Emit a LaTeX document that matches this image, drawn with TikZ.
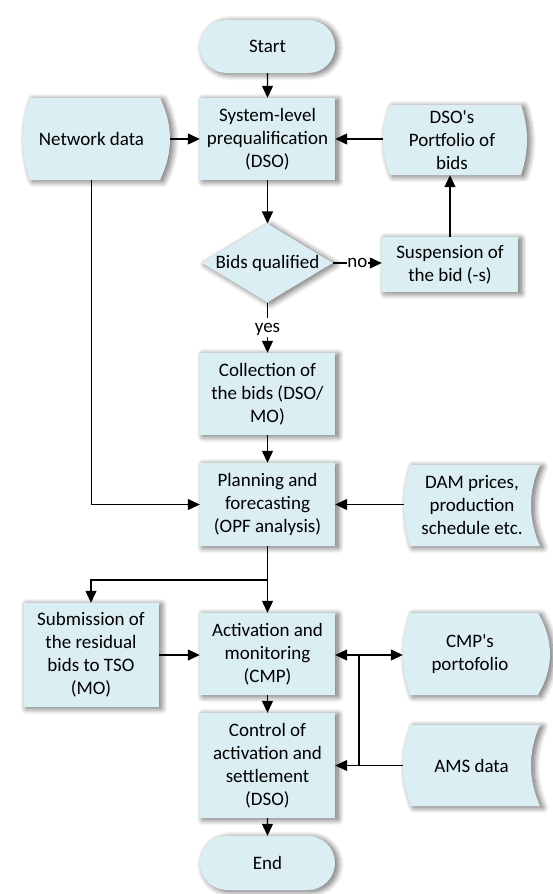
\documentclass[tikz,border=0pt]{standalone}
\usepackage{fontspec}
\newfontfamily\calfont{Carlito}
\usetikzlibrary{shapes.geometric,shapes.misc,arrows.meta,backgrounds,shadows.blur,calc}
\definecolor{boxfill}{HTML}{DAEEF3}
\tikzset{
  base/.style={font=\calfont\fontsize{19}{23}\selectfont, align=center, inner sep=0pt, text=black},
  shad/.style={blur shadow={shadow xshift=3pt, shadow yshift=-1.5pt, shadow blur radius=6pt, shadow blur steps=12, shadow opacity=60}},
  procbox/.style={base, rectangle, fill=boxfill, shad, minimum width=135pt},
  termbox/.style={base, rounded rectangle, fill=boxfill, shad, minimum width=135pt, minimum height=53pt},
  decbox/.style={base, diamond, aspect=1.66, fill=boxfill, shad},
  datatext/.style={base, rectangle},
  datafill/.style={fill=boxfill, shad},
  arr/.style={line width=1.2pt, -{Triangle[length=12pt,width=11pt]}},
  conn/.style={line width=1.2pt},
  lbl/.style={base, fill=white, inner xsep=0.5pt, inner ysep=1pt, text height=13pt, text depth=4pt},
}
\newcommand\storedata[6]{%
  \pgfmathsetmacro\sdh{(#4-#3)/3}%
  \path[datafill] (#1,#3) -- (#2,#3) .. controls ({#2+4*(#6)/3},{#3+\sdh}) and ({#2+4*(#6)/3},{#4-\sdh}) .. (#2,#4) -- (#1,#4) .. controls ({#1-4*(#5)/3},{#4-\sdh}) and ({#1-4*(#5)/3},{#3+\sdh}) .. (#1,#3) -- cycle;}
\begin{document}
\begin{tikzpicture}[x=1pt,y=-1pt]
\useasboundingbox (0,0) rectangle (552,894);
% nodes
\node[termbox] (start) at (267.5,46.5) {Start};
\node[procbox, minimum height=82pt] (sys) at (267.5,139) {System-level\\prequalification\\(DSO)};
\node[datatext, minimum width=137pt, minimum height=82pt] (net) at (91.5,139) {Network data};
\node[datatext, minimum width=138pt, minimum height=70pt] (dsop) at (452,140) {DSO's\\Portfolio of\\bids};
\node[decbox] (dia) at (267.5,263) {Bids qualified};
\node[procbox, minimum width=136pt, minimum height=55pt] (susp) at (450,264.5) {Suspension of\\the bid (-s)};
\node[procbox, minimum height=82pt] (coll) at (267.5,394) {Collection of\\the bids (DSO/\\MO)};
\node[procbox, minimum height=83pt] (plan) at (267.5,504.5) {Planning and\\forecasting\\(OPF analysis)};
\node[datatext, minimum width=136pt, minimum height=81pt] (dam) at (472,505.5) {DAM prices,\\production\\schedule etc.};
\node[procbox, minimum height=104pt] (sub) at (91,655) {Submission of\\the residual\\bids to TSO\\(MO)};
\node[procbox, minimum height=82pt] (act) at (267.5,654) {Activation and\\monitoring\\(CMP)};
\node[datatext, minimum width=134pt, minimum height=82pt] (cmp) at (470,654) {CMP's\\portofolio};
\node[procbox, minimum height=105pt] (ctrl) at (267.5,765.5) {Control of\\activation and\\settlement\\(DSO)};
\node[datatext, minimum width=136pt, minimum height=81pt] (ams) at (471.5,765.5) {AMS data};
\node[termbox, minimum height=54pt] (end) at (267.5,863) {End};
% data shapes behind their texts
\begin{scope}[on background layer]
\storedata{30}{160}{98}{180}{7}{10}
\storedata{390}{521}{105}{175}{7}{6}
\storedata{410}{540}{465}{546}{6}{-9}
\storedata{410}{538}{613}{695}{7}{12}
\storedata{411}{540}{725}{806}{8}{-9}
\end{scope}
% connectors
\draw[arr] (start) -- (sys);
\draw[arr] ([xshift=10pt]net.east) -- (sys.west);
\draw[arr] (dsop.west |- sys.east) -- (sys.east);
\draw[arr] (sys) -- (dia);
\draw[arr] (dia.east) -- node[lbl]{no} (dia.east -| susp.west);
\draw[arr] (susp.north) -- (susp.north |- dsop.south);
\draw[arr] (dia.south) -- node[lbl]{yes} (coll.north);
\draw[arr] (coll) -- (plan);
\draw[arr] (net.south) |- (plan.west);
\draw[arr] (dam.west |- plan.east) -- (plan.east);
\draw[arr] (plan) -- (act);
\coordinate (split) at (267.5,580);
\draw[arr] (split) -| (sub.north);
\draw[arr] (sub.east) -- (sub.east -| act.west);
\coordinate (jn) at (359,655);
\draw[arr] (jn) -- (jn -| act.east);
\draw[arr] (jn) -- (jn -| cmp.west);
\draw[conn] (jn) -- (jn |- ams.west);
\draw[arr] (ams.west) -- (ams.west -| ctrl.east);
\draw[arr] (act) -- (ctrl);
\draw[arr] (ctrl) -- (end);
\end{tikzpicture}
\end{document}
